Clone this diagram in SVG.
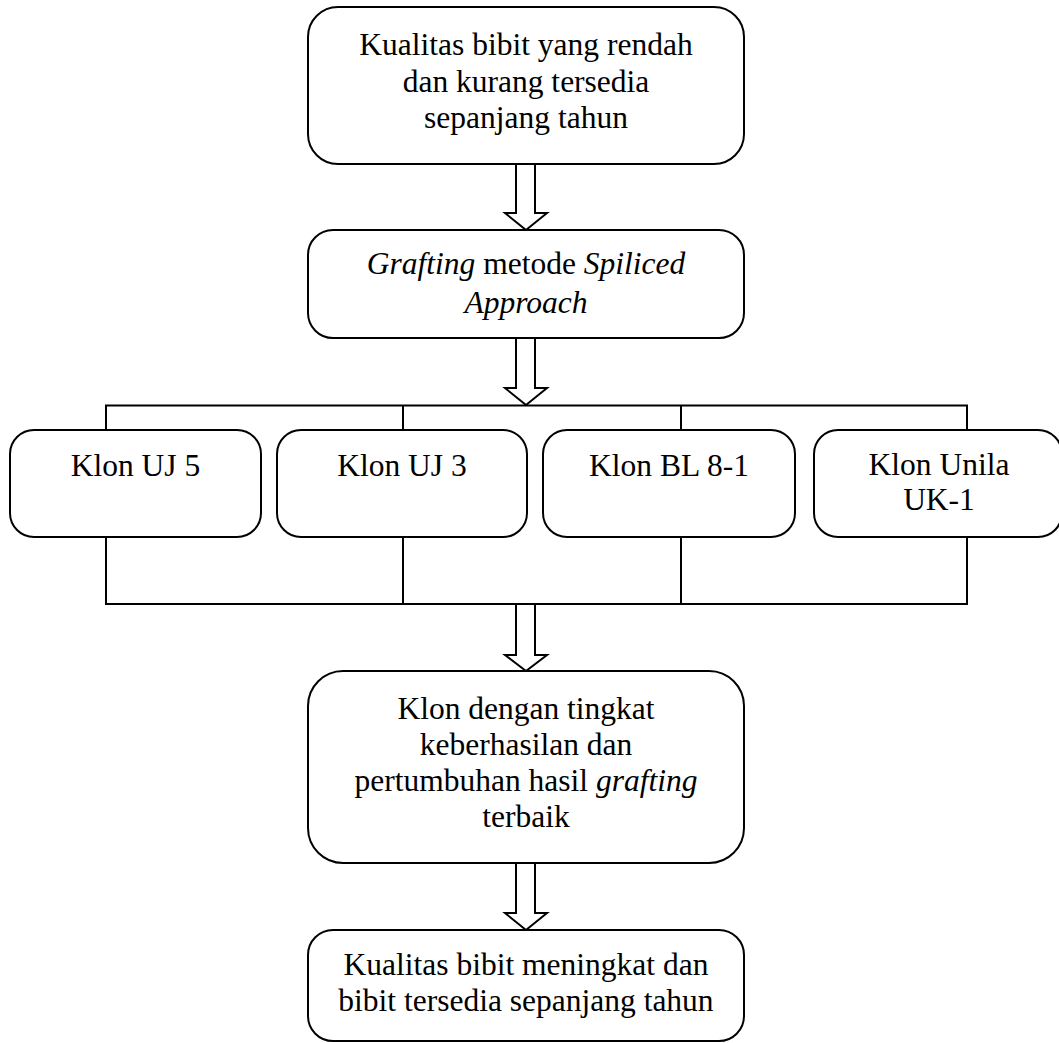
<svg xmlns="http://www.w3.org/2000/svg" width="1059" height="1043" viewBox="0 0 1059 1043">
<style>
.box{fill:#fff;stroke:#000;stroke-width:2}
.ln{fill:none;stroke:#000;stroke-width:2}
.arr{fill:#fff;stroke:#000;stroke-width:2;stroke-linejoin:miter}
text{font-family:"Liberation Serif","Times New Roman",serif;font-size:31.5px;fill:#000;text-anchor:middle}
.i{font-style:italic}
</style>
<rect width="1059" height="1043" fill="#fff"/>
<g id="connectors">
<polygon class="arr" points="516,164 516,213 505,213 526,230 547,213 535,213 535,164"/>
<polygon class="arr" points="516,338 516,388 505,388 526,405 547,388 535,388 535,338"/>
<path class="ln" d="M106,430 V405.5 H967 V430 M403,405.5 V430 M681,405.5 V430"/>
<path class="ln" d="M106,537 V604 H967 V537 M403,537 V604 M681,537 V604"/>
<polygon class="arr" points="516,604 516,655 505,655 526,671 547,655 535,655 535,604"/>
<polygon class="arr" points="516,863 516,913 505,913 526,930 547,913 535,913 535,863"/>
</g>
<g id="node1">
<rect class="box" x="308" y="7" width="436" height="157" rx="30"/>
<text x="526" y="55">Kualitas bibit yang rendah</text>
<text x="526" y="92">dan kurang tersedia</text>
<text x="526" y="128">sepanjang tahun</text>
</g>
<g id="node2">
<rect class="box" x="308" y="230" width="436" height="108" rx="25"/>
<text x="526" y="274"><tspan class="i">Grafting</tspan> metode <tspan class="i">Spiliced</tspan></text>
<text x="526" y="313" class="i">Approach</text>
</g>
<g id="node3">
<rect class="box" x="10" y="430" width="251" height="107" rx="24"/>
<text x="135.5" y="476">Klon UJ 5</text>
</g>
<g id="node4">
<rect class="box" x="277" y="430" width="250" height="107" rx="24"/>
<text x="402" y="476">Klon UJ 3</text>
</g>
<g id="node5">
<rect class="box" x="543" y="430" width="252" height="107" rx="24"/>
<text x="669" y="476">Klon BL 8-1</text>
</g>
<g id="node6">
<rect class="box" x="814" y="430" width="248" height="107" rx="24"/>
<text x="939" y="475">Klon Unila</text>
<text x="939" y="510">UK-1</text>
</g>
<g id="node7">
<rect class="box" x="308" y="671" width="436" height="192" rx="35"/>
<text x="526" y="719">Klon dengan tingkat</text>
<text x="526" y="755">keberhasilan dan</text>
<text x="526" y="791">pertumbuhan hasil <tspan class="i">grafting</tspan></text>
<text x="526" y="827">terbaik</text>
</g>
<g id="node8">
<rect class="box" x="308" y="930" width="436" height="111" rx="25"/>
<text x="526" y="975">Kualitas bibit meningkat dan</text>
<text x="526" y="1011">bibit tersedia sepanjang tahun</text>
</g>
</svg>
